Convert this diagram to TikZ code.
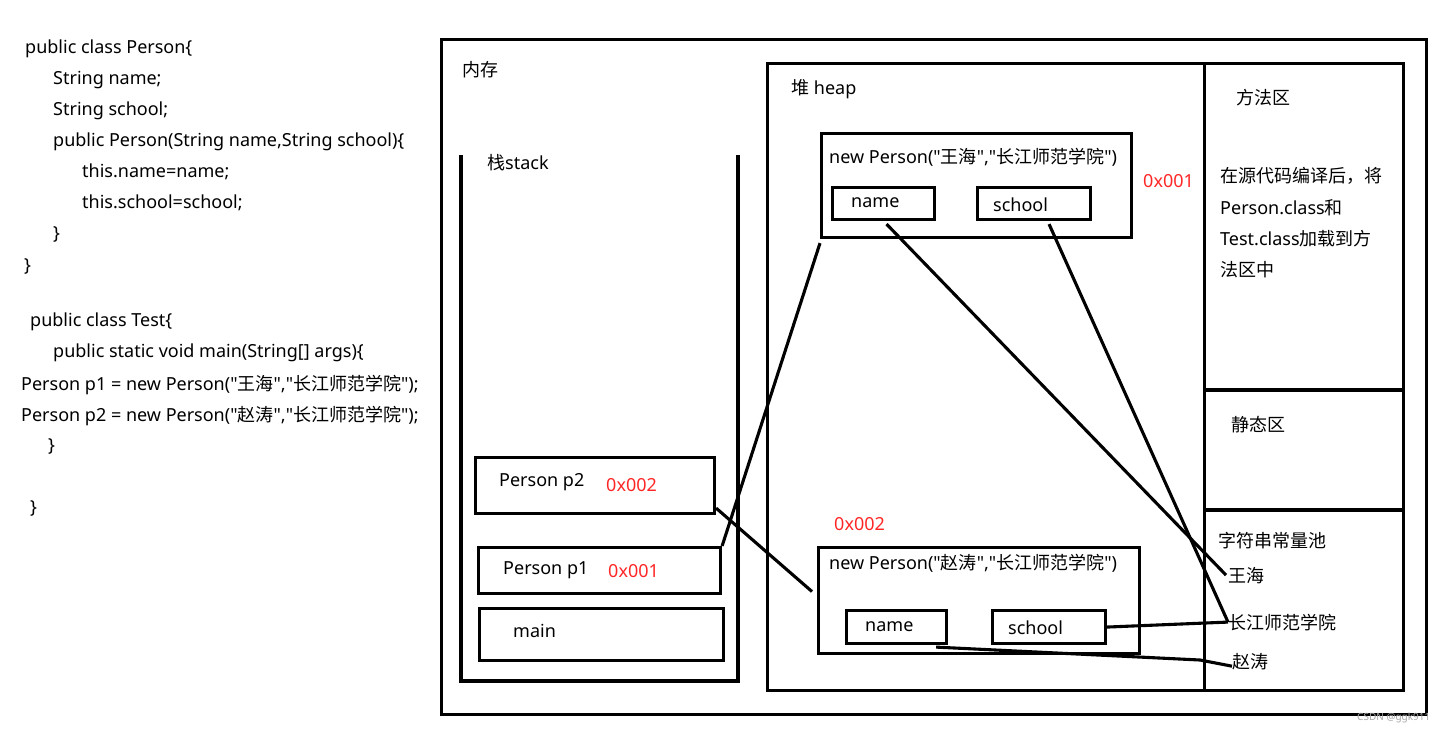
\documentclass[tikz,border=0pt]{standalone}
\usepackage{fontspec}
\setmainfont{Noto Sans}[Ligatures=TeXOff]
\newfontfamily\cjk{Noto Sans CJK SC}[Ligatures=TeXOff]
\usetikzlibrary{positioning,calc}
\tikzset{
  box/.style={draw, line width=3.1pt, anchor=north west, inner sep=0},
  lbl/.style={anchor=base west, inner sep=0, font=\fontsize{18}{21}\selectfont},
  addr/.style={lbl, text=red!85!white},
  link/.style={line width=3.1pt}
}
\newcommand{\zh}[1]{{\cjk #1}}

\begin{document}
\begin{tikzpicture}[x=1pt, y=-1pt]
  \useasboundingbox (0,0) rectangle (1455,732);
  % code on the left
  \node[lbl] (c1) at (25,53) {public class Person\{};
  \node[lbl] (c2) at (53,84) {String name;};
  \node[lbl] (c3) at (53,115) {String school;};
  \node[lbl] (c4) at (53,146) {public Person(String name,String school)\{};
  \node[lbl] (c5) at (82,177) {this.name=name;};
  \node[lbl] (c6) at (82,208) {this.school=school;};
  \node[lbl] (c7) at (53,239) {\}};
  \node[lbl] (c8) at (24,271) {\}};
  \node[lbl] (c9) at (30,326) {public class Test\{};
  \node[lbl] (c10) at (53,357) {public static void main(String[] args)\{};
  \node[lbl] (c11) at (21,390) {Person p1 = new Person("\zh{王海}","\zh{长江师范学院}");};
  \node[lbl] (c12) at (21,421) {Person p2 = new Person("\zh{赵涛}","\zh{长江师范学院}");};
  \node[lbl] (c13) at (48,451) {\}};
  \node[lbl] (c14) at (30,513) {\}};
  % memory
  \node[box, minimum width=985, minimum height=675] (mem) at (440,38) {};
  \node[lbl] (memlbl) at (462,76) {\zh{内存}};
  % stack
  \draw[link] (461,155) -- (461,681) -- (738,681) -- (738,155);
  \node[lbl] (stacklbl) at (487,169) {\zh{栈}stack};
  \node[box, minimum width=239, minimum height=56] (p2) at (474,456) {};
  \node[lbl] at (499,486) {Person p2};
  \node[addr] at (606,491) {0x002};
  \node[box, minimum width=242, minimum height=46] (p1) at (477,546) {};
  \node[lbl] at (503,574) {Person p1};
  \node[addr] at (608,577) {0x001};
  \node[box, minimum width=244, minimum height=52] (mainbox) at (478,607) {};
  \node[lbl] at (513,637) {main};
  % heap
  \node[box, minimum width=437, minimum height=627] (heap) at (766,62) {};
  \node[lbl] (heaplbl) at (791,94) {\zh{堆} heap};
  \node[box, minimum width=310, minimum height=104] (obj1) at (820,132) {};
  \node[lbl] at (829,163) {new Person("\zh{王海}","\zh{长江师范学院}")};
  \node[box, minimum width=102, minimum height=32] (name1) at (831,186) {};
  \node[lbl] at (851,207) {name};
  \node[box, minimum width=113, minimum height=32] (school1) at (976,186) {};
  \node[lbl] at (993,211) {school};
  \node[addr] at (1143,187) {0x001};
  \node[addr] at (834,530) {0x002};
  \node[box, minimum width=321, minimum height=106] (obj2) at (817,546) {};
  \node[lbl] at (829,569) {new Person("\zh{赵涛}","\zh{长江师范学院}")};
  \node[box, minimum width=100, minimum height=33] (name2) at (845,609) {};
  \node[lbl] at (865,631) {name};
  \node[box, minimum width=113, minimum height=33] (school2) at (991,609) {};
  \node[lbl] at (1008,634) {school};
  % method area, static area, string pool
  \node[box, minimum width=199, minimum height=627] (method) at (1203,62) {};
  \draw[link] (1203,390) -- (1402,390);
  \draw[link] (1203,510) -- (1402,510);
  \node[lbl] at (1236,104) {\zh{方法区}};
  \node[lbl] at (1220,182) {\zh{在源代码编译后，将}};
  \node[lbl] at (1220,214) {Person.class\zh{和}};
  \node[lbl] at (1220,245) {Test.class\zh{加载到方}};
  \node[lbl] at (1220,276) {\zh{法区中}};
  \node[lbl] at (1231,431) {\zh{静态区}};
  \node[lbl] at (1218,547) {\zh{字符串常量池}};
  \node[lbl] (wh) at (1228,582) {\zh{王海}};
  \node[lbl] (cj) at (1228,629) {\zh{长江师范学院}};
  \node[lbl] (zt) at (1232,668) {\zh{赵涛}};
  % references
  \draw[link] (p1.north east) -- ([yshift=-4]obj1.south west);
  \draw[link] ([yshift=7]p2.south east) -- ([xshift=-5,yshift=9]obj2.west);
  \draw[link] ([xshift=3,yshift=-3]name1.south) -- ([xshift=-2]wh.west);
  \draw[link] ([xshift=15,yshift=-3]school1.south) -- (cj.west);
  \draw[link] (school2.east) -- (cj.west);
  \draw[link] ([xshift=-12,yshift=-2]name2.south east) -- (1200,660) -- ([yshift=-5]zt.west);
  % watermark
  \node[anchor=base west, inner sep=0, text=gray!70, font=\fontsize{10}{12}\selectfont] (wm) at (1357,720) {CSDN @ggk911};
\end{tikzpicture}
\end{document}
